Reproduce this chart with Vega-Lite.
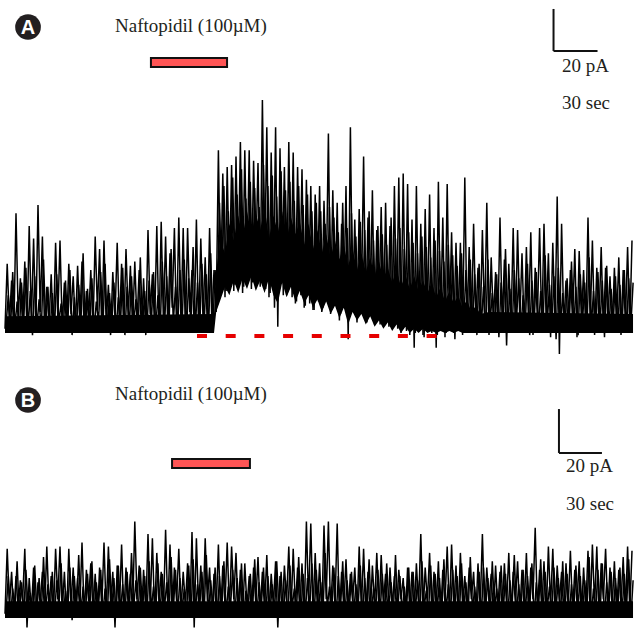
{
"$schema": "https://vega.github.io/schema/vega-lite/v6.json",
"padding": 0,
"spacing": 0,
"background": "white",
"config": {"view": {"stroke": null}},
"datasets": {
"traceA": [
{"t":0,"v":2},{"t":1.5,"v":33},{"t":3,"v":5},{"t":4.5,"v":25},{"t":6,"v":0},{"t":7.5,"v":57},{"t":9,"v":8},{"t":10.5,"v":26},{"t":12,"v":3},{"t":13.5,"v":34},
{"t":15,"v":1},{"t":16.5,"v":51},{"t":18,"v":6},{"t":19.5,"v":45},{"t":21,"v":2},{"t":22.5,"v":61},{"t":24,"v":10},{"t":25.5,"v":46},{"t":27,"v":1},{"t":28.5,"v":22},
{"t":30,"v":4},{"t":31.5,"v":28},{"t":33,"v":0},{"t":34.5,"v":43},{"t":36,"v":7},{"t":37.5,"v":44},{"t":39,"v":3},{"t":40.5,"v":24},{"t":42,"v":1},{"t":43.5,"v":33},
{"t":45,"v":9},{"t":46.5,"v":27},{"t":48,"v":2},{"t":49.5,"v":32},{"t":51,"v":5},{"t":52.5,"v":34},{"t":54,"v":0},{"t":55.5,"v":20},{"t":57,"v":6},{"t":58.5,"v":30},
{"t":60,"v":2},{"t":61.5,"v":46},{"t":63,"v":11},{"t":64.5,"v":40},{"t":66,"v":1},{"t":67.5,"v":44},{"t":69,"v":4},{"t":70.5,"v":23},{"t":72,"v":-1},{"t":73.5,"v":29},
{"t":75,"v":7},{"t":76.5,"v":43},{"t":78,"v":3},{"t":79.5,"v":33},{"t":81,"v":0},{"t":82.5,"v":40},{"t":84,"v":8},{"t":85.5,"v":32},{"t":87,"v":2},{"t":88.5,"v":34},
{"t":90,"v":5},{"t":91.5,"v":30},{"t":93,"v":1},{"t":94.5,"v":26},{"t":96,"v":-1},{"t":97.5,"v":49},{"t":99,"v":9},{"t":100.5,"v":28},{"t":102,"v":3},{"t":103.5,"v":51},
{"t":105,"v":0},{"t":106.5,"v":53},{"t":108,"v":6},{"t":109.5,"v":46},{"t":111,"v":2},{"t":112.5,"v":38},{"t":114,"v":12},{"t":115.5,"v":50},{"t":117,"v":1},{"t":118.5,"v":55},
{"t":120,"v":4},{"t":121.5,"v":50},{"t":123,"v":0},{"t":124.5,"v":50},{"t":126,"v":10},{"t":127.5,"v":30},{"t":129,"v":3},{"t":130.5,"v":54},{"t":132,"v":1},{"t":133.5,"v":45},
{"t":135,"v":7},{"t":136.5,"v":36},{"t":138,"v":2},{"t":139.5,"v":50},{"t":141,"v":5},{"t":142.5,"v":30},{"t":144,"v":10},{"t":145.5,"v":87},{"t":147,"v":18},{"t":148.5,"v":76},
{"t":150,"v":17},{"t":151.5,"v":79},{"t":153,"v":25},{"t":154.5,"v":80},{"t":156,"v":20},{"t":157.5,"v":84},{"t":159,"v":30},{"t":160.5,"v":91},{"t":162,"v":19},{"t":163.5,"v":87},
{"t":165,"v":28},{"t":166.5,"v":87},{"t":168,"v":21},{"t":169.5,"v":82},{"t":171,"v":35},{"t":172.5,"v":81},{"t":174,"v":22},{"t":175.5,"v":111},{"t":177,"v":30},{"t":178.5,"v":98},
{"t":180,"v":17},{"t":181.5,"v":86},{"t":183,"v":25},{"t":184.5,"v":98},{"t":186,"v":3},{"t":187.5,"v":88},{"t":189,"v":28},{"t":190.5,"v":79},{"t":192,"v":18},{"t":193.5,"v":91},
{"t":195,"v":24},{"t":196.5,"v":86},{"t":198,"v":14},{"t":199.5,"v":79},{"t":201,"v":22},{"t":202.5,"v":78},{"t":204,"v":12},{"t":205.5,"v":73},{"t":207,"v":20},{"t":208.5,"v":70},
{"t":210,"v":11},{"t":211.5,"v":66},{"t":213,"v":18},{"t":214.5,"v":70},{"t":216,"v":10},{"t":217.5,"v":63},{"t":219,"v":22},{"t":220.5,"v":95},{"t":222,"v":9},{"t":223.5,"v":68},
{"t":225,"v":15},{"t":226.5,"v":62},{"t":228,"v":6},{"t":229.5,"v":52},{"t":231,"v":14},{"t":232.5,"v":70},{"t":234,"v":-3},{"t":235.5,"v":98},{"t":237,"v":12},{"t":238.5,"v":54},
{"t":240,"v":5},{"t":241.5,"v":59},{"t":243,"v":15},{"t":244.5,"v":84},{"t":246,"v":6},{"t":247.5,"v":55},{"t":249,"v":10},{"t":250.5,"v":68},{"t":252,"v":4},{"t":253.5,"v":49},
{"t":255,"v":12},{"t":256.5,"v":60},{"t":258,"v":3},{"t":259.5,"v":62},{"t":261,"v":9},{"t":262.5,"v":51},{"t":264,"v":2},{"t":265.5,"v":70},{"t":267,"v":8},{"t":268.5,"v":74},
{"t":270,"v":0},{"t":271.5,"v":76},{"t":273,"v":6},{"t":274.5,"v":71},{"t":276,"v":-1},{"t":277.5,"v":54},{"t":279,"v":-7},{"t":280.5,"v":70},{"t":282,"v":3},{"t":283.5,"v":52},
{"t":285,"v":-1},{"t":286.5,"v":59},{"t":288,"v":5},{"t":289.5,"v":66},{"t":291,"v":0},{"t":292.5,"v":50},{"t":294,"v":-7},{"t":295.5,"v":72},{"t":297,"v":4},{"t":298.5,"v":55},
{"t":300,"v":-2},{"t":301.5,"v":71},{"t":303,"v":5},{"t":304.5,"v":48},{"t":306,"v":0},{"t":307.5,"v":43},{"t":309,"v":6},{"t":310.5,"v":43},{"t":312,"v":-1},{"t":313.5,"v":74},
{"t":315,"v":4},{"t":316.5,"v":41},{"t":318,"v":0},{"t":319.5,"v":52},{"t":321,"v":7},{"t":322.5,"v":31},{"t":324,"v":1},{"t":325.5,"v":49},{"t":327,"v":5},{"t":328.5,"v":62},
{"t":330,"v":-1},{"t":331.5,"v":36},{"t":333,"v":6},{"t":334.5,"v":29},{"t":336,"v":2},{"t":337.5,"v":55},{"t":339,"v":4},{"t":340.5,"v":35},{"t":342,"v":-6},{"t":343.5,"v":33},
{"t":345,"v":3},{"t":346.5,"v":50},{"t":348,"v":0},{"t":349.5,"v":49},{"t":351,"v":6},{"t":352.5,"v":38},{"t":354,"v":1},{"t":355.5,"v":41},{"t":357,"v":4},{"t":358.5,"v":48},
{"t":360,"v":-1},{"t":361.5,"v":31},{"t":363,"v":7},{"t":364.5,"v":50},{"t":366,"v":2},{"t":367.5,"v":52},{"t":369,"v":5},{"t":370.5,"v":38},{"t":372,"v":-2},{"t":373.5,"v":43},
{"t":375,"v":4},{"t":376.5,"v":65},{"t":378,"v":-10},{"t":379.5,"v":52},{"t":381,"v":3},{"t":382.5,"v":25},{"t":384,"v":0},{"t":385.5,"v":30},{"t":387,"v":5},{"t":388.5,"v":40},
{"t":390,"v":-2},{"t":391.5,"v":39},{"t":393,"v":6},{"t":394.5,"v":30},{"t":396,"v":1},{"t":397.5,"v":55},{"t":399,"v":4},{"t":400.5,"v":44},{"t":402,"v":-1},{"t":403.5,"v":31},
{"t":405,"v":5},{"t":406.5,"v":41},{"t":408,"v":0},{"t":409.5,"v":31},{"t":411,"v":6},{"t":412.5,"v":27},{"t":414,"v":1},{"t":415.5,"v":31},{"t":417,"v":3},{"t":418.5,"v":36},
{"t":420,"v":-1},{"t":421.5,"v":30},{"t":423,"v":5},{"t":424.5,"v":41},{"t":426,"v":2},{"t":427.5,"v":44}
],
"traceA2": [
{"t":0.75,"v":4},{"t":2.25,"v":18},{"t":3.75,"v":1},{"t":5.25,"v":29},{"t":6.75,"v":3},{"t":8.25,"v":15},{"t":9.75,"v":0},{"t":11.25,"v":24},{"t":12.75,"v":5},{"t":14.25,"v":31},
{"t":15.75,"v":2},{"t":17.25,"v":20},{"t":18.75,"v":-1},{"t":20.25,"v":27},{"t":21.75,"v":3},{"t":23.25,"v":16},{"t":24.75,"v":1},{"t":26.25,"v":35},{"t":27.75,"v":4},{"t":29.25,"v":22},
{"t":30.75,"v":0},{"t":32.25,"v":19},{"t":33.75,"v":2},{"t":35.25,"v":28},{"t":36.75,"v":5},{"t":38.25,"v":14},{"t":39.75,"v":1},{"t":41.25,"v":25},{"t":42.75,"v":3},{"t":44.25,"v":30},
{"t":45.75,"v":-1},{"t":47.25,"v":17},{"t":48.75,"v":2},{"t":50.25,"v":23},{"t":51.75,"v":4},{"t":53.25,"v":38},{"t":54.75,"v":0},{"t":56.25,"v":21},{"t":57.75,"v":3},{"t":59.25,"v":26},
{"t":60.75,"v":1},{"t":62.25,"v":15},{"t":63.75,"v":5},{"t":65.25,"v":29},{"t":66.75,"v":2},{"t":68.25,"v":33},{"t":69.75,"v":0},{"t":71.25,"v":19},{"t":72.75,"v":3},{"t":74.25,"v":24},
{"t":75.75,"v":1},{"t":77.25,"v":17},{"t":78.75,"v":4},{"t":80.25,"v":31},{"t":81.75,"v":-1},{"t":83.25,"v":22},{"t":84.75,"v":2},{"t":86.25,"v":27},{"t":87.75,"v":5},{"t":89.25,"v":16},
{"t":90.75,"v":0},{"t":92.25,"v":36},{"t":93.75,"v":3},{"t":95.25,"v":20},{"t":96.75,"v":1},{"t":98.25,"v":25},{"t":99.75,"v":4},{"t":101.25,"v":29},{"t":102.75,"v":2},{"t":104.25,"v":18},
{"t":105.75,"v":0},{"t":107.25,"v":34},{"t":108.75,"v":3},{"t":110.25,"v":27},{"t":111.75,"v":1},{"t":113.25,"v":40},{"t":114.75,"v":5},{"t":116.25,"v":22},{"t":117.75,"v":2},{"t":119.25,"v":30},
{"t":120.75,"v":4},{"t":122.25,"v":35},{"t":123.75,"v":0},{"t":125.25,"v":26},{"t":126.75,"v":3},{"t":128.25,"v":41},{"t":129.75,"v":1},{"t":131.25,"v":24},{"t":132.75,"v":2},{"t":134.25,"v":33},
{"t":135.75,"v":4},{"t":137.25,"v":28},{"t":138.75,"v":0},{"t":140.25,"v":38},{"t":141.75,"v":3},{"t":143.25,"v":30},{"t":144.75,"v":14},{"t":146.25,"v":62},{"t":147.75,"v":22},{"t":149.25,"v":70},
{"t":150.75,"v":20},{"t":152.25,"v":58},{"t":153.75,"v":24},{"t":155.25,"v":74},{"t":156.75,"v":23},{"t":158.25,"v":66},{"t":159.75,"v":26},{"t":161.25,"v":78},{"t":162.75,"v":22},{"t":164.25,"v":64},
{"t":165.75,"v":25},{"t":167.25,"v":72},{"t":168.75,"v":24},{"t":170.25,"v":69},{"t":171.75,"v":23},{"t":173.25,"v":60},{"t":174.75,"v":27},{"t":176.25,"v":80},{"t":177.75,"v":21},{"t":179.25,"v":70},
{"t":180.75,"v":19},{"t":182.25,"v":75},{"t":183.75,"v":12},{"t":185.25,"v":65},{"t":186.75,"v":20},{"t":188.25,"v":77},{"t":189.75,"v":18},{"t":191.25,"v":68},{"t":192.75,"v":22},{"t":194.25,"v":72},
{"t":195.75,"v":17},{"t":197.25,"v":63},{"t":198.75,"v":15},{"t":200.25,"v":70},{"t":201.75,"v":18},{"t":203.25,"v":61},{"t":204.75,"v":13},{"t":206.25,"v":66},{"t":207.75,"v":14},{"t":209.25,"v":58},
{"t":210.75,"v":11},{"t":212.25,"v":62},{"t":213.75,"v":15},{"t":215.25,"v":58},{"t":216.75,"v":12},{"t":218.25,"v":52},{"t":219.75,"v":16},{"t":221.25,"v":60},{"t":222.75,"v":11},{"t":224.25,"v":55},
{"t":225.75,"v":13},{"t":227.25,"v":48},{"t":228.75,"v":9},{"t":230.25,"v":62},{"t":231.75,"v":12},{"t":233.25,"v":50},{"t":234.75,"v":7},{"t":236.25,"v":57},{"t":237.75,"v":10},{"t":239.25,"v":46},
{"t":240.75,"v":8},{"t":242.25,"v":53},{"t":243.75,"v":9},{"t":245.25,"v":49},{"t":246.75,"v":5},{"t":248.25,"v":58},{"t":249.75,"v":8},{"t":251.25,"v":44},{"t":252.75,"v":6},{"t":254.25,"v":51},
{"t":255.75,"v":4},{"t":257.25,"v":47},{"t":258.75,"v":7},{"t":260.25,"v":42},{"t":261.75,"v":3},{"t":263.25,"v":55},{"t":264.75,"v":5},{"t":266.25,"v":45},{"t":267.75,"v":2},{"t":269.25,"v":50},
{"t":270.75,"v":4},{"t":272.25,"v":40},{"t":273.75,"v":1},{"t":275.25,"v":48},{"t":276.75,"v":3},{"t":278.25,"v":43},{"t":279.75,"v":0},{"t":281.25,"v":38},{"t":282.75,"v":2},{"t":284.25,"v":46},
{"t":285.75,"v":-2},{"t":287.25,"v":41},{"t":288.75,"v":3},{"t":290.25,"v":36},{"t":291.75,"v":1},{"t":293.25,"v":44},{"t":294.75,"v":-1},{"t":296.25,"v":39},{"t":297.75,"v":2},{"t":299.25,"v":34},
{"t":300.75,"v":0},{"t":302.25,"v":42},{"t":303.75,"v":3},{"t":305.25,"v":37},{"t":306.75,"v":-3},{"t":308.25,"v":32},{"t":309.75,"v":1},{"t":311.25,"v":38},{"t":312.75,"v":4},{"t":314.25,"v":30},
{"t":315.75,"v":0},{"t":317.25,"v":35},{"t":318.75,"v":2},{"t":320.25,"v":28},{"t":321.75,"v":-1},{"t":323.25,"v":33},{"t":324.75,"v":3},{"t":326.25,"v":22},{"t":327.75,"v":0},{"t":329.25,"v":35},
{"t":330.75,"v":5},{"t":332.25,"v":19},{"t":333.75,"v":1},{"t":335.25,"v":28},{"t":336.75,"v":-2},{"t":338.25,"v":24},{"t":339.75,"v":4},{"t":341.25,"v":40},{"t":342.75,"v":2},{"t":344.25,"v":21},
{"t":345.75,"v":0},{"t":347.25,"v":30},{"t":348.75,"v":6},{"t":350.25,"v":26},{"t":351.75,"v":1},{"t":353.25,"v":18},{"t":354.75,"v":3},{"t":356.25,"v":33},{"t":357.75,"v":-1},{"t":359.25,"v":25},
{"t":360.75,"v":4},{"t":362.25,"v":29},{"t":363.75,"v":2},{"t":365.25,"v":20},{"t":366.75,"v":0},{"t":368.25,"v":37},{"t":369.75,"v":5},{"t":371.25,"v":23},{"t":372.75,"v":1},{"t":374.25,"v":27},
{"t":375.75,"v":-3},{"t":377.25,"v":31},{"t":378.75,"v":3},{"t":380.25,"v":19},{"t":381.75,"v":0},{"t":383.25,"v":26},{"t":384.75,"v":4},{"t":386.25,"v":34},{"t":387.75,"v":2},{"t":389.25,"v":22},
{"t":390.75,"v":-1},{"t":392.25,"v":28},{"t":393.75,"v":5},{"t":395.25,"v":24},{"t":396.75,"v":1},{"t":398.25,"v":36},{"t":399.75,"v":3},{"t":401.25,"v":20},{"t":402.75,"v":0},{"t":404.25,"v":29},
{"t":405.75,"v":4},{"t":407.25,"v":25},{"t":408.75,"v":-2},{"t":410.25,"v":32},{"t":411.75,"v":2},{"t":413.25,"v":21},{"t":414.75,"v":5},{"t":416.25,"v":27},{"t":417.75,"v":1},{"t":419.25,"v":23},
{"t":420.75,"v":3},{"t":422.25,"v":30},{"t":423.75,"v":0},{"t":425.25,"v":26},{"t":426.75,"v":4},{"t":428.25,"v":24}
],
"traceB": [
{"t":0,"v":2},{"t":1.5,"v":33},{"t":3,"v":6},{"t":4.5,"v":22},{"t":6,"v":1},{"t":7.5,"v":20},{"t":9,"v":4},{"t":10.5,"v":18},{"t":12,"v":8},{"t":13.5,"v":33},
{"t":15,"v":-4.5},{"t":16.5,"v":19},{"t":18,"v":3},{"t":19.5,"v":24},{"t":21,"v":0},{"t":22.5,"v":17},{"t":24,"v":7},{"t":25.5,"v":22},{"t":27,"v":2},{"t":28.5,"v":34},
{"t":30,"v":5},{"t":31.5,"v":20},{"t":33,"v":1},{"t":34.5,"v":33},{"t":36,"v":9},{"t":37.5,"v":34},{"t":39,"v":3},{"t":40.5,"v":22},{"t":42,"v":0},{"t":43.5,"v":33},
{"t":45,"v":6},{"t":46.5,"v":24},{"t":48,"v":2},{"t":49.5,"v":19},{"t":51,"v":4},{"t":52.5,"v":36},{"t":54,"v":1},{"t":55.5,"v":23},{"t":57,"v":8},{"t":58.5,"v":26},
{"t":60,"v":3},{"t":61.5,"v":21},{"t":63,"v":0},{"t":64.5,"v":24},{"t":66,"v":5},{"t":67.5,"v":36},{"t":69,"v":2},{"t":70.5,"v":34},{"t":72,"v":7},{"t":73.5,"v":22},
{"t":75,"v":-4.5},{"t":76.5,"v":25},{"t":78,"v":4},{"t":79.5,"v":35},{"t":81,"v":1},{"t":82.5,"v":24},{"t":84,"v":6},{"t":85.5,"v":21},{"t":87,"v":2},{"t":88.5,"v":46},
{"t":90,"v":9},{"t":91.5,"v":25},{"t":93,"v":0},{"t":94.5,"v":23},{"t":96,"v":3},{"t":97.5,"v":40},{"t":99,"v":5},{"t":100.5,"v":38},{"t":102,"v":1},{"t":103.5,"v":31},
{"t":105,"v":7},{"t":106.5,"v":22},{"t":108,"v":2},{"t":109.5,"v":42},{"t":111,"v":4},{"t":112.5,"v":35},{"t":114,"v":0},{"t":115.5,"v":24},{"t":117,"v":8},{"t":118.5,"v":33},
{"t":120,"v":3},{"t":121.5,"v":22},{"t":123,"v":6},{"t":124.5,"v":26},{"t":126,"v":1},{"t":127.5,"v":41},{"t":129,"v":-4.5},{"t":130.5,"v":38},{"t":132,"v":5},{"t":133.5,"v":25},
{"t":135,"v":2},{"t":136.5,"v":38},{"t":138,"v":8},{"t":139.5,"v":24},{"t":141,"v":0},{"t":142.5,"v":21},{"t":144,"v":4},{"t":145.5,"v":35},{"t":147,"v":1},{"t":148.5,"v":25},
{"t":150,"v":6},{"t":151.5,"v":36},{"t":153,"v":3},{"t":154.5,"v":34},{"t":156,"v":9},{"t":157.5,"v":31},{"t":159,"v":2},{"t":160.5,"v":23},{"t":162,"v":0},{"t":163.5,"v":26},
{"t":165,"v":5},{"t":166.5,"v":20},{"t":168,"v":1},{"t":169.5,"v":24},{"t":171,"v":7},{"t":172.5,"v":29},{"t":174,"v":3},{"t":175.5,"v":22},{"t":177,"v":4},{"t":178.5,"v":30},
{"t":180,"v":0},{"t":181.5,"v":21},{"t":183,"v":6},{"t":184.5,"v":27},{"t":186,"v":-4.5},{"t":187.5,"v":20},{"t":189,"v":2},{"t":190.5,"v":25},{"t":192,"v":8},{"t":193.5,"v":34},
{"t":195,"v":1},{"t":196.5,"v":33},{"t":198,"v":5},{"t":199.5,"v":24},{"t":201,"v":3},{"t":202.5,"v":26},{"t":204,"v":0},{"t":205.5,"v":46},{"t":207,"v":7},{"t":208.5,"v":45},
{"t":210,"v":2},{"t":211.5,"v":31},{"t":213,"v":4},{"t":214.5,"v":26},{"t":216,"v":1},{"t":217.5,"v":44},{"t":219,"v":9},{"t":220.5,"v":46},{"t":222,"v":3},{"t":223.5,"v":25},
{"t":225,"v":6},{"t":226.5,"v":45},{"t":228,"v":0},{"t":229.5,"v":22},{"t":231,"v":5},{"t":232.5,"v":28},{"t":234,"v":2},{"t":235.5,"v":21},{"t":237,"v":8},{"t":238.5,"v":24},
{"t":240,"v":1},{"t":241.5,"v":34},{"t":243,"v":4},{"t":244.5,"v":33},{"t":246,"v":3},{"t":247.5,"v":22},{"t":249,"v":0},{"t":250.5,"v":25},{"t":252,"v":6},{"t":253.5,"v":31},
{"t":255,"v":2},{"t":256.5,"v":30},{"t":258,"v":7},{"t":259.5,"v":21},{"t":261,"v":1},{"t":262.5,"v":24},{"t":264,"v":5},{"t":265.5,"v":20},{"t":267,"v":3},{"t":268.5,"v":23},
{"t":270,"v":9},{"t":271.5,"v":19},{"t":273,"v":0},{"t":274.5,"v":24},{"t":276,"v":4},{"t":277.5,"v":22},{"t":279,"v":2},{"t":280.5,"v":26},{"t":282,"v":6},{"t":283.5,"v":40},
{"t":285,"v":1},{"t":286.5,"v":24},{"t":288,"v":8},{"t":289.5,"v":31},{"t":291,"v":3},{"t":292.5,"v":22},{"t":294,"v":5},{"t":295.5,"v":27},{"t":297,"v":0},{"t":298.5,"v":23},
{"t":300,"v":7},{"t":301.5,"v":34},{"t":303,"v":2},{"t":304.5,"v":35},{"t":306,"v":4},{"t":307.5,"v":25},{"t":309,"v":1},{"t":310.5,"v":31},{"t":312,"v":6},{"t":313.5,"v":20},
{"t":315,"v":3},{"t":316.5,"v":24},{"t":318,"v":9},{"t":319.5,"v":22},{"t":321,"v":0},{"t":322.5,"v":26},{"t":324,"v":5},{"t":325.5,"v":40},{"t":327,"v":2},{"t":328.5,"v":24},
{"t":330,"v":8},{"t":331.5,"v":21},{"t":333,"v":1},{"t":334.5,"v":25},{"t":336,"v":4},{"t":337.5,"v":22},{"t":339,"v":3},{"t":340.5,"v":26},{"t":342,"v":6},{"t":343.5,"v":31},
{"t":345,"v":0},{"t":346.5,"v":22},{"t":348,"v":7},{"t":349.5,"v":27},{"t":351,"v":2},{"t":352.5,"v":23},{"t":354,"v":5},{"t":355.5,"v":31},{"t":357,"v":1},{"t":358.5,"v":24},
{"t":360,"v":9},{"t":361.5,"v":43},{"t":363,"v":3},{"t":364.5,"v":23},{"t":366,"v":4},{"t":367.5,"v":27},{"t":369,"v":0},{"t":370.5,"v":34},{"t":372,"v":6},{"t":373.5,"v":33},
{"t":375,"v":2},{"t":376.5,"v":25},{"t":378,"v":8},{"t":379.5,"v":22},{"t":381,"v":1},{"t":382.5,"v":26},{"t":384,"v":5},{"t":385.5,"v":32},{"t":387,"v":3},{"t":388.5,"v":23},
{"t":390,"v":7},{"t":391.5,"v":27},{"t":393,"v":0},{"t":394.5,"v":24},{"t":396,"v":4},{"t":397.5,"v":32},{"t":399,"v":2},{"t":400.5,"v":35},{"t":402,"v":6},{"t":403.5,"v":34},
{"t":405,"v":1},{"t":406.5,"v":26},{"t":408,"v":9},{"t":409.5,"v":33},{"t":411,"v":3},{"t":412.5,"v":24},{"t":414,"v":5},{"t":415.5,"v":27},{"t":417,"v":2},{"t":418.5,"v":23},
{"t":420,"v":6},{"t":421.5,"v":29},{"t":423,"v":1},{"t":424.5,"v":34},{"t":426,"v":4},{"t":427.5,"v":32}
],
"traceB2": [
{"t":0.75,"v":3},{"t":2.25,"v":20},{"t":3.75,"v":0},{"t":5.25,"v":14},{"t":6.75,"v":4},{"t":8.25,"v":27},{"t":9.75,"v":1},{"t":11.25,"v":17},{"t":12.75,"v":2},{"t":14.25,"v":23},
{"t":15.75,"v":5},{"t":17.25,"v":12},{"t":18.75,"v":0},{"t":20.25,"v":25},{"t":21.75,"v":3},{"t":23.25,"v":19},{"t":24.75,"v":1},{"t":26.25,"v":29},{"t":27.75,"v":4},{"t":29.25,"v":16},
{"t":30.75,"v":2},{"t":32.25,"v":22},{"t":33.75,"v":0},{"t":35.25,"v":18},{"t":36.75,"v":5},{"t":38.25,"v":26},{"t":39.75,"v":1},{"t":41.25,"v":13},{"t":42.75,"v":3},{"t":44.25,"v":24},
{"t":45.75,"v":-1},{"t":47.25,"v":20},{"t":48.75,"v":4},{"t":50.25,"v":30},{"t":51.75,"v":2},{"t":53.25,"v":15},{"t":54.75,"v":0},{"t":56.25,"v":21},{"t":57.75,"v":3},{"t":59.25,"v":27},
{"t":60.75,"v":1},{"t":62.25,"v":17},{"t":63.75,"v":5},{"t":65.25,"v":23},{"t":66.75,"v":2},{"t":68.25,"v":14},{"t":69.75,"v":0},{"t":71.25,"v":28},{"t":72.75,"v":4},{"t":74.25,"v":19},
{"t":75.75,"v":1},{"t":77.25,"v":25},{"t":78.75,"v":3},{"t":80.25,"v":16},{"t":81.75,"v":0},{"t":83.25,"v":22},{"t":84.75,"v":2},{"t":86.25,"v":31},{"t":87.75,"v":5},{"t":89.25,"v":18},
{"t":90.75,"v":1},{"t":92.25,"v":24},{"t":93.75,"v":3},{"t":95.25,"v":20},{"t":96.75,"v":0},{"t":98.25,"v":27},{"t":99.75,"v":4},{"t":101.25,"v":15},{"t":102.75,"v":2},{"t":104.25,"v":26},
{"t":105.75,"v":1},{"t":107.25,"v":21},{"t":108.75,"v":5},{"t":110.25,"v":17},{"t":111.75,"v":0},{"t":113.25,"v":29},{"t":114.75,"v":3},{"t":116.25,"v":23},{"t":117.75,"v":2},{"t":119.25,"v":19},
{"t":120.75,"v":4},{"t":122.25,"v":14},{"t":123.75,"v":1},{"t":125.25,"v":25},{"t":126.75,"v":0},{"t":128.25,"v":28},{"t":129.75,"v":3},{"t":131.25,"v":16},{"t":132.75,"v":5},{"t":134.25,"v":22},
{"t":135.75,"v":2},{"t":137.25,"v":30},{"t":138.75,"v":1},{"t":140.25,"v":18},{"t":141.75,"v":4},{"t":143.25,"v":24},{"t":144.75,"v":0},{"t":146.25,"v":20},{"t":147.75,"v":3},{"t":149.25,"v":27},
{"t":150.75,"v":2},{"t":152.25,"v":15},{"t":153.75,"v":5},{"t":155.25,"v":23},{"t":156.75,"v":1},{"t":158.25,"v":19},{"t":159.75,"v":3},{"t":161.25,"v":26},{"t":162.75,"v":0},{"t":164.25,"v":13},
{"t":165.75,"v":4},{"t":167.25,"v":21},{"t":168.75,"v":2},{"t":170.25,"v":28},{"t":171.75,"v":1},{"t":173.25,"v":17},{"t":174.75,"v":5},{"t":176.25,"v":24},{"t":177.75,"v":0},{"t":179.25,"v":20},
{"t":180.75,"v":3},{"t":182.25,"v":16},{"t":183.75,"v":2},{"t":185.25,"v":27},{"t":186.75,"v":4},{"t":188.25,"v":22},{"t":189.75,"v":1},{"t":191.25,"v":18},{"t":192.75,"v":0},{"t":194.25,"v":25},
{"t":195.75,"v":5},{"t":197.25,"v":14},{"t":198.75,"v":3},{"t":200.25,"v":29},{"t":201.75,"v":1},{"t":203.25,"v":21},{"t":204.75,"v":2},{"t":206.25,"v":19},{"t":207.75,"v":4},{"t":209.25,"v":26},
{"t":210.75,"v":0},{"t":212.25,"v":23},{"t":213.75,"v":3},{"t":215.25,"v":17},{"t":216.75,"v":1},{"t":218.25,"v":31},{"t":219.75,"v":5},{"t":221.25,"v":15},{"t":222.75,"v":2},{"t":224.25,"v":24},
{"t":225.75,"v":0},{"t":227.25,"v":20},{"t":228.75,"v":4},{"t":230.25,"v":27},{"t":231.75,"v":1},{"t":233.25,"v":18},{"t":234.75,"v":3},{"t":236.25,"v":22},{"t":237.75,"v":2},{"t":239.25,"v":16},
{"t":240.75,"v":5},{"t":242.25,"v":25},{"t":243.75,"v":0},{"t":245.25,"v":19},{"t":246.75,"v":3},{"t":248.25,"v":28},{"t":249.75,"v":1},{"t":251.25,"v":14},{"t":252.75,"v":4},{"t":254.25,"v":23},
{"t":255.75,"v":2},{"t":257.25,"v":21},{"t":258.75,"v":0},{"t":260.25,"v":26},{"t":261.75,"v":5},{"t":263.25,"v":17},{"t":264.75,"v":1},{"t":266.25,"v":30},{"t":267.75,"v":3},{"t":269.25,"v":20},
{"t":270.75,"v":2},{"t":272.25,"v":15},{"t":273.75,"v":4},{"t":275.25,"v":24},{"t":276.75,"v":0},{"t":278.25,"v":22},{"t":279.75,"v":3},{"t":281.25,"v":18},{"t":282.75,"v":1},{"t":284.25,"v":27},
{"t":285.75,"v":5},{"t":287.25,"v":13},{"t":288.75,"v":2},{"t":290.25,"v":25},{"t":291.75,"v":0},{"t":293.25,"v":21},{"t":294.75,"v":4},{"t":296.25,"v":19},{"t":297.75,"v":1},{"t":299.25,"v":28},
{"t":300.75,"v":3},{"t":302.25,"v":16},{"t":303.75,"v":2},{"t":305.25,"v":23},{"t":306.75,"v":5},{"t":308.25,"v":20},{"t":309.75,"v":0},{"t":311.25,"v":26},{"t":312.75,"v":4},{"t":314.25,"v":17},
{"t":315.75,"v":1},{"t":317.25,"v":29},{"t":318.75,"v":3},{"t":320.25,"v":15},{"t":321.75,"v":2},{"t":323.25,"v":22},{"t":324.75,"v":0},{"t":326.25,"v":24},{"t":327.75,"v":5},{"t":329.25,"v":19},
{"t":330.75,"v":1},{"t":332.25,"v":27},{"t":333.75,"v":4},{"t":335.25,"v":14},{"t":336.75,"v":2},{"t":338.25,"v":25},{"t":339.75,"v":3},{"t":341.25,"v":21},{"t":342.75,"v":0},{"t":344.25,"v":18},
{"t":345.75,"v":5},{"t":347.25,"v":30},{"t":348.75,"v":1},{"t":350.25,"v":16},{"t":351.75,"v":3},{"t":353.25,"v":23},{"t":354.75,"v":2},{"t":356.25,"v":20},{"t":357.75,"v":4},{"t":359.25,"v":26},
{"t":360.75,"v":0},{"t":362.25,"v":17},{"t":363.75,"v":3},{"t":365.25,"v":28},{"t":366.75,"v":1},{"t":368.25,"v":22},{"t":369.75,"v":5},{"t":371.25,"v":15},{"t":372.75,"v":2},{"t":374.25,"v":24},
{"t":375.75,"v":4},{"t":377.25,"v":19},{"t":378.75,"v":0},{"t":380.25,"v":27},{"t":381.75,"v":3},{"t":383.25,"v":21},{"t":384.75,"v":1},{"t":386.25,"v":16},{"t":387.75,"v":2},{"t":389.25,"v":25},
{"t":390.75,"v":5},{"t":392.25,"v":20},{"t":393.75,"v":0},{"t":395.25,"v":18},{"t":396.75,"v":4},{"t":398.25,"v":29},{"t":399.75,"v":1},{"t":401.25,"v":14},{"t":402.75,"v":3},{"t":404.25,"v":23},
{"t":405.75,"v":2},{"t":407.25,"v":26},{"t":408.75,"v":0},{"t":410.25,"v":17},{"t":411.75,"v":5},{"t":413.25,"v":22},{"t":414.75,"v":1},{"t":416.25,"v":19},{"t":417.75,"v":3},{"t":419.25,"v":24},
{"t":420.75,"v":2},{"t":422.25,"v":21},{"t":423.75,"v":4},{"t":425.25,"v":28},{"t":426.75,"v":0},{"t":428.25,"v":18}
],
"bodyA": [
{"t":0,"v":0,"v2":8},{"t":142.5,"v":0,"v2":9},
{"t":144,"v":10,"v2":30},{"t":147,"v":16,"v2":44},{"t":150,"v":22,"v2":38},{"t":153,"v":18,"v2":52},{"t":156,"v":25,"v2":44},{"t":159,"v":19,"v2":56},
{"t":162,"v":26,"v2":46},{"t":165,"v":21,"v2":58},{"t":168,"v":27,"v2":47},{"t":171,"v":20,"v2":57},{"t":174,"v":25,"v2":49},{"t":177,"v":19,"v2":60},
{"t":180,"v":26,"v2":45},{"t":183,"v":18,"v2":56},{"t":186,"v":14,"v2":48},{"t":189,"v":24,"v2":58},{"t":192,"v":17,"v2":44},{"t":195,"v":22,"v2":55},
{"t":198,"v":15,"v2":47},{"t":201,"v":20,"v2":53},{"t":204,"v":14,"v2":42},{"t":207,"v":18,"v2":52},{"t":210,"v":12,"v2":40},{"t":213,"v":16,"v2":49},
{"t":216,"v":10,"v2":38},{"t":219,"v":15,"v2":47},{"t":222,"v":9,"v2":36},{"t":225,"v":13,"v2":44},{"t":228,"v":7,"v2":35},{"t":231,"v":12,"v2":42},
{"t":234,"v":4,"v2":32},{"t":237,"v":10,"v2":40},{"t":240,"v":6,"v2":30},{"t":243,"v":9,"v2":38},{"t":246,"v":4,"v2":29},{"t":249,"v":8,"v2":36},
{"t":252,"v":3,"v2":27},{"t":255,"v":6,"v2":34},{"t":258,"v":2,"v2":26},{"t":261,"v":5,"v2":31},{"t":264,"v":1,"v2":24},{"t":267,"v":4,"v2":30},
{"t":270,"v":0,"v2":22},{"t":273,"v":3,"v2":28},{"t":276,"v":0,"v2":21},{"t":279,"v":2,"v2":27},{"t":282,"v":0,"v2":20},{"t":285,"v":2,"v2":25},
{"t":288,"v":0,"v2":19},{"t":291,"v":1,"v2":24},{"t":294,"v":0,"v2":17},{"t":297,"v":1,"v2":22},{"t":300,"v":0,"v2":15},{"t":303,"v":1,"v2":20},
{"t":306,"v":0,"v2":14},{"t":309,"v":1,"v2":18},{"t":312,"v":0,"v2":12},{"t":315,"v":0,"v2":16},{"t":318,"v":0,"v2":10},{"t":321,"v":0,"v2":13},
{"t":324,"v":0,"v2":9},{"t":330,"v":0,"v2":10},{"t":428.2,"v":0,"v2":9}
],
"bodyB": [
{"t":0,"v":0,"v2":8},{"t":428.2,"v":0,"v2":8}
],
"dashA": [{"t":130.9,"v":-1.43},{"t":295.2,"v":-1.43}],
"barA": [{"t":99.5,"v":126.67,"t2":151.4,"v2":130.95}],
"barB": [{"t":113.9,"v":71.4,"t2":167.0,"v2":75.7}],
"scaleA": [{"t":374,"v":134.3,"t2":374,"v2":154.3},{"t":374,"v":134.3,"t2":404,"v2":134.3}],
"scaleB": [{"t":377.7,"v":78.6,"t2":377.7,"v2":99.5},{"t":377.7,"v":78.6,"t2":407,"v2":78.6}],
"textA": [{"t":75,"v":143.3,"label":"Naftopidil (100µM)"},{"t":379.8,"v":124.5,"label":"20 pA"},{"t":379.8,"v":106.7,"label":"30 sec"}],
"textB": [{"t":75,"v":103.6,"label":"Naftopidil (100µM)"},{"t":382.5,"v":69.3,"label":"20 pA"},{"t":382.5,"v":51.4,"label":"30 sec"}],
"tagA": [{"t":15.7,"v":145.7,"label":"A"}],
"tagB": [{"t":15.7,"v":103.8,"label":"B"}]
},
"vconcat": [
{
"width": 636, "height": 370,
"encoding": {
"x": {"field":"t","type":"quantitative","scale":{"domain":[-3.41,430.23],"nice":false,"zero":false},"axis":null},
"y": {"field":"v","type":"quantitative","scale":{"domain":[-17.62,158.57],"nice":false,"zero":false},"axis":null}
},
"layer": [
{"data":{"name":"bodyA"},"mark":{"type":"area","color":"#000000"},"encoding":{"y2":{"field":"v2"}}},
{"data":{"name":"traceA2"},"mark":{"type":"line","color":"#000000","strokeWidth":1.5},"encoding":{}},
{"data":{"name":"traceA"},"mark":{"type":"line","color":"#000000","strokeWidth":1.5},"encoding":{}},
{"data":{"name":"dashA"},"mark":{"type":"line","color":"#e60000","strokeWidth":4,"strokeDash":[10,18.7],"strokeCap":"butt"},"encoding":{}},
{"data":{"name":"barA"},"mark":{"type":"rect","fill":"#ff5555","stroke":"#111111","strokeWidth":2},"encoding":{"x2":{"field":"t2"},"y2":{"field":"v2"}}},
{"data":{"name":"scaleA"},"mark":{"type":"rule","color":"#111111","strokeWidth":2},"encoding":{"x2":{"field":"t2"},"y2":{"field":"v2"}}},
{"data":{"name":"textA"},"mark":{"type":"text","font":"Liberation Serif","fontSize":19,"align":"left","baseline":"alphabetic","color":"#231f20"},"encoding":{"text":{"field":"label"}}},
{"data":{"name":"tagA"},"mark":{"type":"point","filled":true,"size":660,"color":"#231f20","opacity":1},"encoding":{}},
{"data":{"name":"tagA"},"mark":{"type":"text","font":"Liberation Sans","fontWeight":"bold","fontSize":20,"align":"center","baseline":"alphabetic","dy":7,"color":"#ffffff"},"encoding":{"text":{"field":"label"}}}
]
},
{
"width": 636, "height": 258,
"encoding": {
"x": {"field":"t","type":"quantitative","scale":{"domain":[-3.41,430.23],"nice":false,"zero":false},"axis":null},
"y": {"field":"v","type":"quantitative","scale":{"domain":[-4.76,118.1],"nice":false,"zero":false},"axis":null}
},
"layer": [
{"data":{"name":"bodyB"},"mark":{"type":"area","color":"#000000"},"encoding":{"y2":{"field":"v2"}}},
{"data":{"name":"traceB2"},"mark":{"type":"line","color":"#000000","strokeWidth":1.5},"encoding":{}},
{"data":{"name":"traceB"},"mark":{"type":"line","color":"#000000","strokeWidth":1.5},"encoding":{}},
{"data":{"name":"barB"},"mark":{"type":"rect","fill":"#ff5555","stroke":"#111111","strokeWidth":2},"encoding":{"x2":{"field":"t2"},"y2":{"field":"v2"}}},
{"data":{"name":"scaleB"},"mark":{"type":"rule","color":"#111111","strokeWidth":2},"encoding":{"x2":{"field":"t2"},"y2":{"field":"v2"}}},
{"data":{"name":"textB"},"mark":{"type":"text","font":"Liberation Serif","fontSize":19,"align":"left","baseline":"alphabetic","color":"#231f20"},"encoding":{"text":{"field":"label"}}},
{"data":{"name":"tagB"},"mark":{"type":"point","filled":true,"size":660,"color":"#231f20","opacity":1},"encoding":{}},
{"data":{"name":"tagB"},"mark":{"type":"text","font":"Liberation Sans","fontWeight":"bold","fontSize":20,"align":"center","baseline":"alphabetic","dy":7,"color":"#ffffff"},"encoding":{"text":{"field":"label"}}}
]
}
]
}
